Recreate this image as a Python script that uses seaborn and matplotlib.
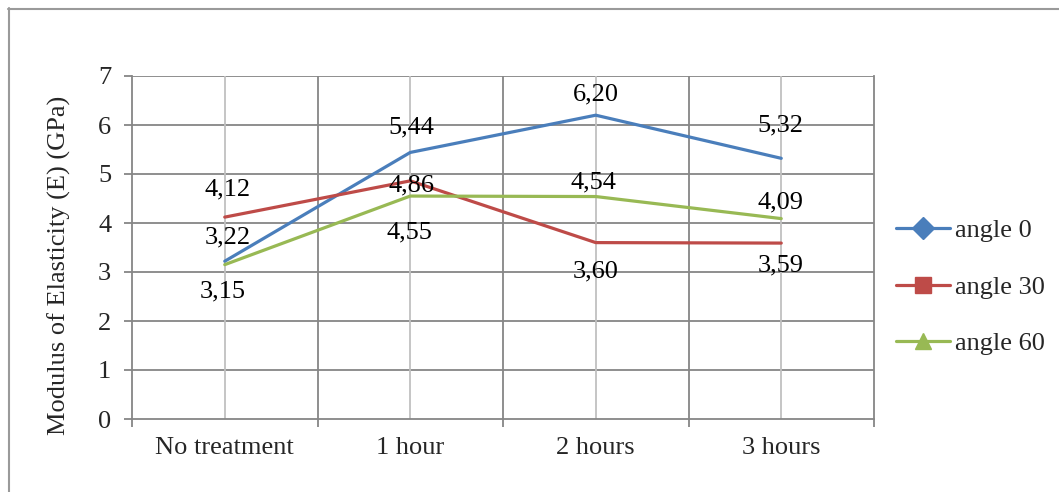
import matplotlib
matplotlib.use("Agg")
import matplotlib.pyplot as plt
from matplotlib.lines import Line2D
import seaborn as sns
import pandas as pd

# ---- data ----
categories = ["No treatment", "1 hour", "2 hours", "3 hours"]
angle_0 = [3.22, 5.44, 6.20, 5.32]
angle_30 = [4.12, 4.86, 3.60, 3.59]
angle_60 = [3.15, 4.55, 4.54, 4.09]
series_names = ["angle 0", "angle 30", "angle 60"]
y_ticks = [0, 1, 2, 3, 4, 5, 6, 7]

# ---- styles / label placement (pixel offsets) ----
colors = ["#4A7EBB", "#BE4B48", "#98B954"]
markers = ["D", "s", "^"]
label_offsets = [
    [(3, 24), (1, 25), (0, 21), (-1, 33)],
    [(3, 28), (1, -5), (0, -29), (-1, -22)],
    [(-2, -27), (-1, -36), (-2, 14), (-1, 16)],
]

sns.set_style("white")
plt.rcParams["font.family"] = ["Liberation Serif", "DejaVu Serif"]

rows = []
for name, vals in zip(series_names, [angle_0, angle_30, angle_60]):
    for i, (c, v) in enumerate(zip(categories, vals)):
        rows.append({"cat": c, "x": i, "value": v, "series": name})
df = pd.DataFrame(rows)

fig = plt.figure(figsize=(10.59, 4.92), dpi=100)
ax = fig.add_axes([132 / 1059, 1 - 419 / 492, 742 / 1059, 343 / 492])

# gridlines
grid_dark = "#868686"
grid_light = "#C0C0C0"
for y in y_ticks[1:]:
    ax.axhline(y, color=grid_dark, lw=1.3, zorder=0)
for b in [0.5, 1.5, 2.5]:
    ax.axvline(b, color=grid_dark, lw=1.3, zorder=0)
for cx in range(len(categories)):
    ax.axvline(cx, color=grid_light, lw=1.3, zorder=0)

sns.lineplot(data=df, x="x", y="value", hue="series", palette=colors,
             linewidth=2.3, legend=False, ax=ax, zorder=3)

# data labels
for s, vals in enumerate([angle_0, angle_30, angle_60]):
    for i, v in enumerate(vals):
        dx, dy = label_offsets[s][i]
        ax.annotate(f"{v:.2f}".replace(".", ","), (i, v), xytext=(dx, dy),
                    textcoords="offset pixels", ha="center", va="center",
                    fontsize=19, color="black", zorder=4)

ax.set_xlim(-0.5, 3.5)
ax.set_ylim(0, 7)
ax.set_yticks(y_ticks)
ax.set_xticks(range(len(categories)))
ax.set_xticklabels(categories)
ax.set_xticks([-0.5, 0.5, 1.5, 2.5, 3.5], minor=True)
ax.tick_params(axis="x", which="major", length=0, pad=13, labelsize=19)
ax.tick_params(axis="x", which="minor", length=6, width=1.3, color=grid_dark,
               direction="out", bottom=True)
ax.tick_params(axis="y", length=6, width=1.3, color=grid_dark, direction="out",
               pad=9, labelsize=19, left=True)
ax.set_xlabel("")
ax.set_ylabel("Modulus of Elasticity (E) (GPa)", fontsize=19)
ax.yaxis.set_label_coords(-0.082, 0.449)

for side in ["left", "bottom", "right"]:
    ax.spines[side].set_color(grid_dark)
    ax.spines[side].set_linewidth(1.3)
ax.spines["top"].set_visible(False)

# legend with markers
handles = [Line2D([0], [0], color=c, marker=m, lw=2.3, markersize=11,
                  markerfacecolor=c, markeredgecolor=c)
           for c, m in zip(colors, markers)]
fig.legend(handles, series_names, loc="center left",
           bbox_to_anchor=(896 / 1059, 1 - 287 / 492), frameon=False,
           fontsize=19, handlelength=2.05, handletextpad=0.2,
           labelspacing=1.25, borderpad=0, borderaxespad=0)

# outer chart border (top and left visible)
fig.add_artist(Line2D([8 / 1059, 1.01], [1 - 8.5 / 492, 1 - 8.5 / 492],
                      color="#9A9A9A", lw=1.5, transform=fig.transFigure))
fig.add_artist(Line2D([8.5 / 1059, 8.5 / 1059], [1 - 8 / 492, -0.01],
                      color="#9A9A9A", lw=1.5, transform=fig.transFigure))

fig.savefig("out.png", dpi=100)
